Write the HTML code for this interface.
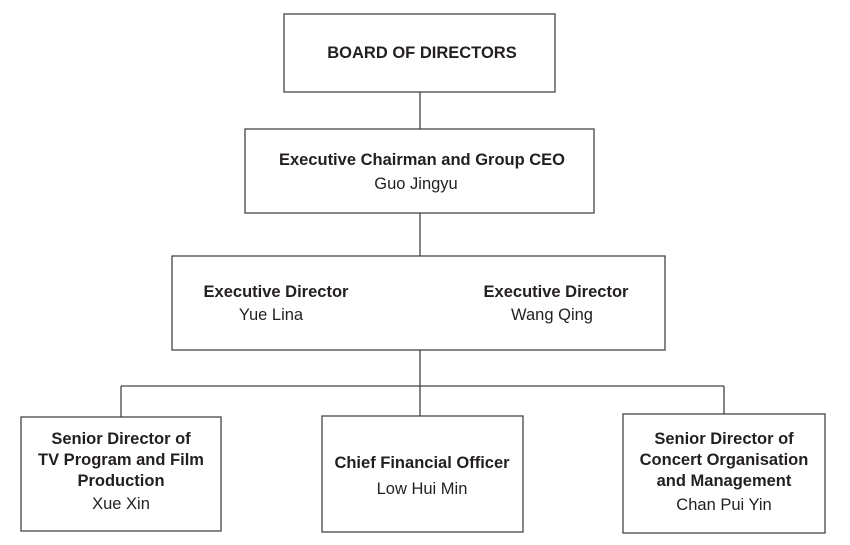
<!DOCTYPE html>
<html><head><style>body{margin:0;background:#fff}svg{display:block}</style></head><body>
<svg width="850" height="545" xmlns="http://www.w3.org/2000/svg" font-family="Liberation Sans, sans-serif" fill="#231f20">
<g fill="none" stroke="#444" stroke-width="1.3">
<rect x="284" y="14" width="271" height="78"/>
<rect x="245" y="129" width="349" height="84"/>
<rect x="172" y="256" width="493" height="94"/>
<rect x="21" y="417" width="200" height="114"/>
<rect x="322" y="416" width="201" height="116"/>
<rect x="623" y="414" width="202" height="119"/>
<path d="M420 92V129M420 213V256M420 350V386M121 386H724M121 386V417M420 386V416M724 386V414"/>
</g>
<g text-anchor="middle" font-size="16.5">
<text x="422" y="58" font-weight="bold">BOARD OF DIRECTORS</text>
<text x="422" y="165" font-weight="bold">Executive Chairman and Group CEO</text>
<text x="416" y="189">Guo Jingyu</text>
<text x="276" y="297" font-weight="bold">Executive Director</text>
<text x="271" y="320">Yue Lina</text>
<text x="556" y="297" font-weight="bold">Executive Director</text>
<text x="552" y="320">Wang Qing</text>
<text x="121" y="444" font-weight="bold">Senior Director of</text>
<text x="121" y="465" font-weight="bold">TV Program and Film</text>
<text x="121" y="486" font-weight="bold">Production</text>
<text x="121" y="509">Xue Xin</text>
<text x="422" y="468" font-weight="bold">Chief Financial Officer</text>
<text x="422" y="494">Low Hui Min</text>
<text x="724" y="444" font-weight="bold">Senior Director of</text>
<text x="724" y="465" font-weight="bold">Concert Organisation</text>
<text x="724" y="486" font-weight="bold">and Management</text>
<text x="724" y="510">Chan Pui Yin</text>
</g>
</svg>
</body></html>
